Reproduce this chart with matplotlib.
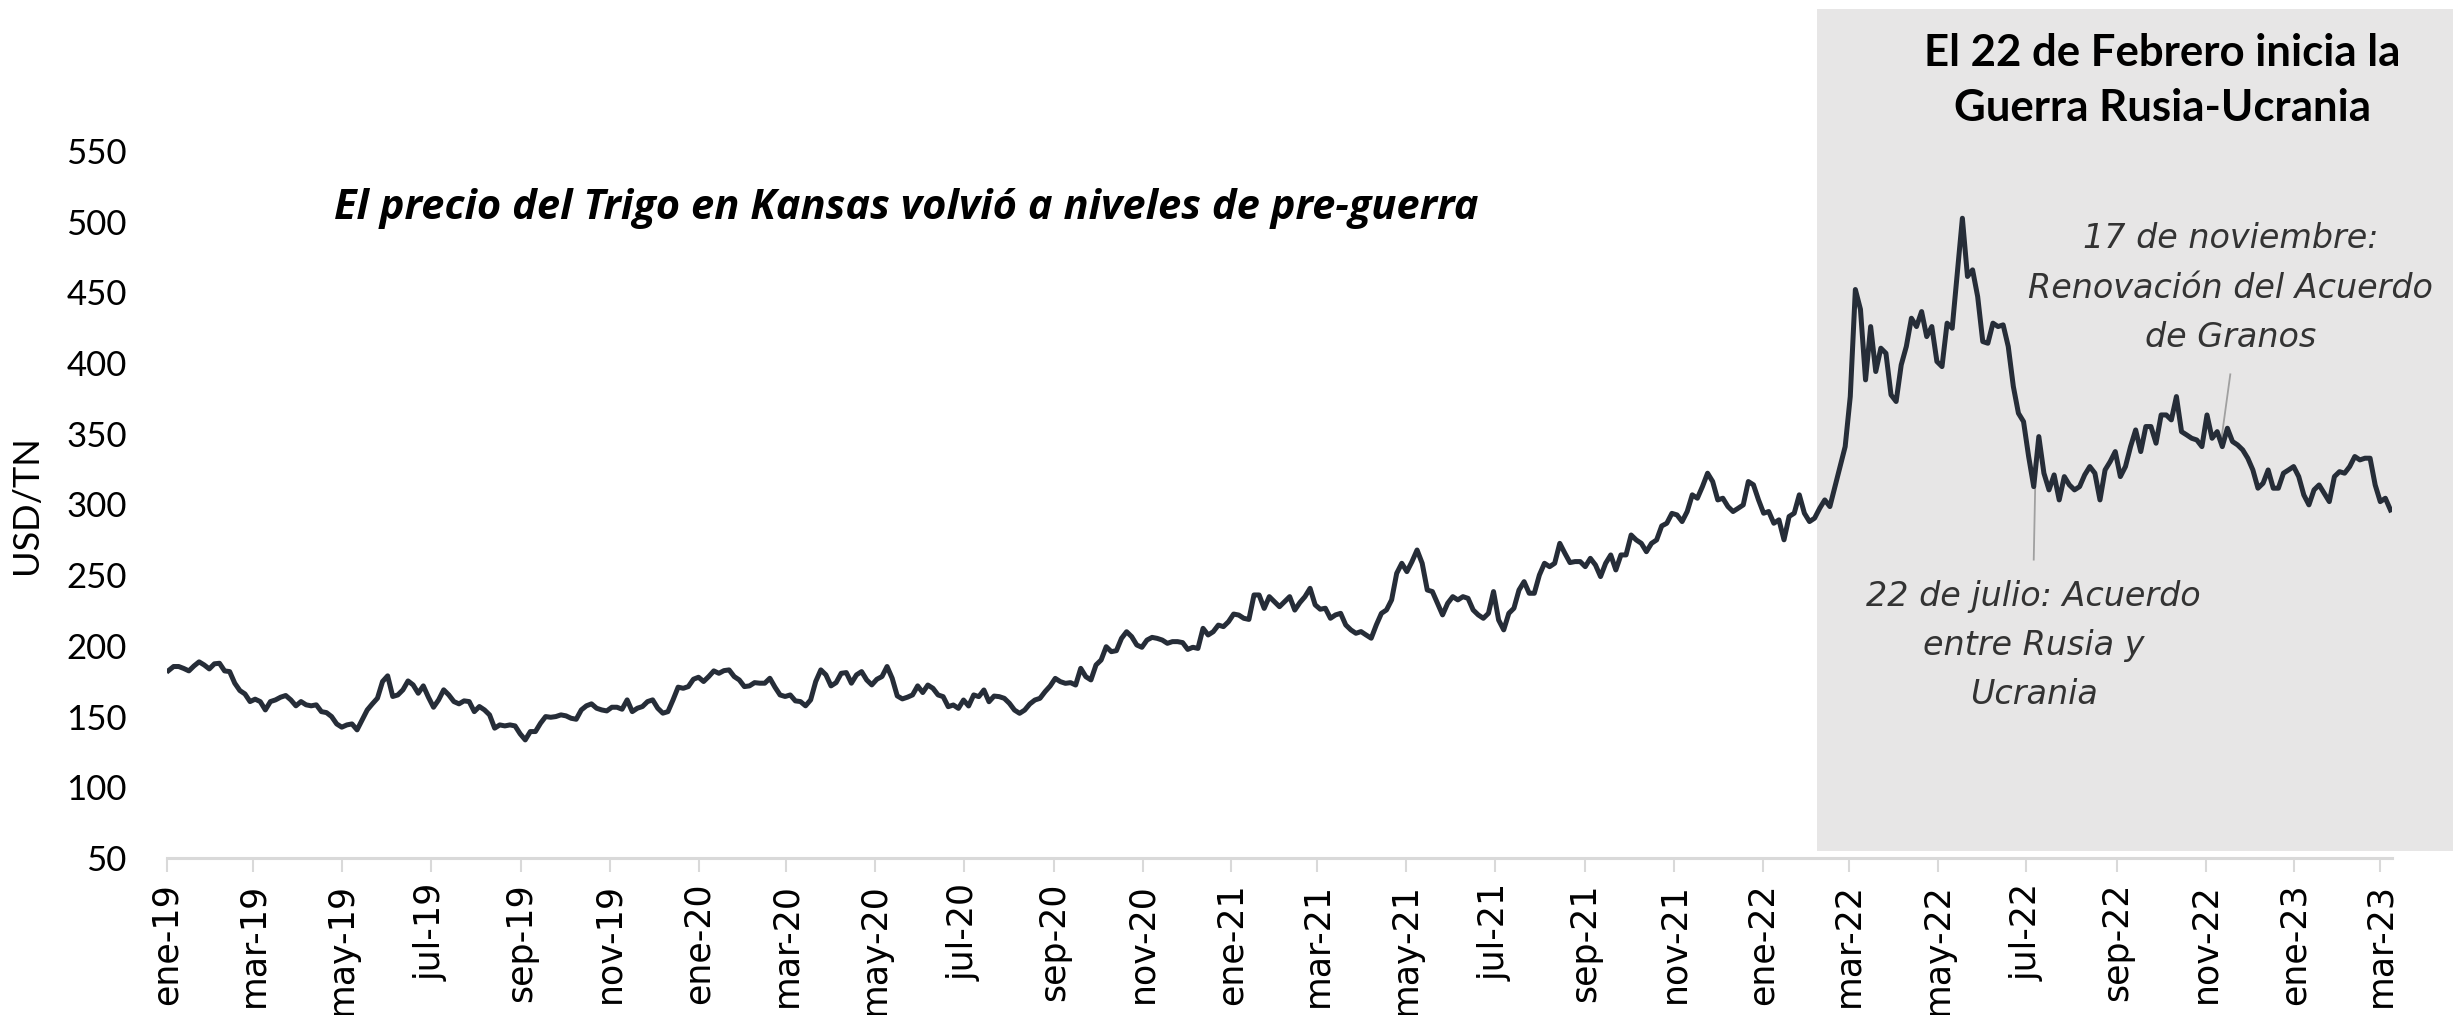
import numpy as np
import pandas as pd
import matplotlib
matplotlib.use("Agg")
import matplotlib.pyplot as plt
import matplotlib.dates as mdates
from matplotlib.patches import Rectangle
from matplotlib.ticker import FuncFormatter

# Precio trigo Kansas (USD/TN), lectura cada 3.5 dias desde 02-01-2019
precio = [
    182.5, 185.4, 185.4, 184.0, 182.3, 185.8, 188.7, 186.5, 183.7, 187.3,
    187.7, 182.3, 181.8, 173.6, 168.4, 166.0, 160.6, 162.3, 160.6, 154.7,
    160.6, 161.8, 163.7, 164.9, 161.8, 157.6, 160.6, 158.3, 157.6, 158.3,
    153.5, 152.8, 150.0, 144.8, 142.5, 144.1, 144.8, 140.6, 147.7, 154.7,
    159.0, 163.0, 174.8, 178.8, 164.2, 165.3, 168.9, 175.2, 172.4, 166.5,
    171.7, 163.7, 156.6, 161.8, 168.9, 165.3, 160.6, 159.0, 161.1, 160.6,
    153.5, 157.1, 154.7, 151.2, 141.8, 144.1, 143.4, 144.1, 143.4, 137.8,
    133.5, 139.4, 139.4, 145.3, 150.0, 149.5, 150.0, 151.2, 150.5, 148.8,
    148.1, 154.7, 157.6, 159.0, 155.9, 154.7, 154.0, 156.6, 156.6, 155.2,
    161.8, 153.5, 155.9, 157.1, 160.6, 161.8, 155.9, 152.4, 153.5, 161.8,
    170.8, 170.0, 171.2, 176.4, 177.8, 174.8, 178.3, 182.3, 180.6, 182.5,
    183.0, 178.3, 175.9, 171.2, 171.7, 174.0, 173.6, 173.6, 177.1, 170.8,
    165.3, 164.2, 165.3, 161.1, 160.6, 157.6, 161.8, 174.8, 183.0, 179.5,
    171.7, 174.0, 180.6, 181.1, 173.6, 179.5, 181.8, 175.9, 172.4, 176.4,
    178.3, 185.4, 177.1, 164.6, 162.5, 163.7, 165.3, 171.7, 167.0, 172.3,
    170.0, 165.3, 164.1, 157.0, 158.2, 155.8, 161.7, 157.5, 165.3, 164.1,
    168.8, 160.5, 164.5, 164.1, 162.9, 159.4, 154.6, 152.3, 154.6, 158.9,
    161.7, 162.9, 167.6, 171.6, 177.0, 174.7, 173.5, 174.0, 172.3, 184.1,
    178.2, 175.9, 186.5, 190.0, 199.4, 195.9, 196.6, 205.3, 210.0, 206.5,
    200.6, 199.0, 204.1, 206.0, 205.3, 204.1, 201.8, 203.0, 203.0, 202.3,
    197.5, 199.0, 198.2, 212.4, 207.7, 210.0, 214.7, 213.6, 217.1, 222.5,
    221.8, 219.5, 218.7, 236.0, 236.0, 226.5, 234.8, 231.2, 227.7, 231.2,
    234.8, 225.3, 230.6, 234.8, 240.7, 229.0, 225.9, 226.6, 219.5, 221.9,
    223.0, 214.8, 211.3, 208.9, 210.1, 207.7, 205.4, 214.8, 223.0, 225.4,
    232.5, 251.3, 258.4, 252.5, 259.6, 267.8, 258.4, 239.5, 238.4, 230.1,
    221.9, 230.1, 234.8, 232.5, 234.8, 233.6, 225.4, 221.9, 219.5, 223.0,
    238.4, 218.3, 211.3, 223.0, 226.6, 239.5, 245.4, 237.2, 237.2, 250.1,
    258.4, 256.0, 258.4, 272.5, 265.5, 258.9, 259.6, 259.6, 256.0, 261.9,
    257.2, 249.0, 258.4, 264.3, 253.7, 264.3, 264.3, 278.4, 274.9, 272.5,
    266.6, 272.5, 274.9, 284.8, 286.7, 293.7, 292.6, 287.9, 295.0, 306.8,
    304.4, 312.7, 322.1, 316.2, 303.2, 304.4, 298.5, 295.0, 297.3, 299.7,
    316.2, 313.9, 303.2, 293.8, 295.0, 286.7, 289.1, 275.0, 291.5, 293.8,
    306.8, 293.8, 287.9, 290.3, 297.3, 303.2, 298.5, 312.7, 326.8, 340.9,
    376.3, 452.0, 438.0, 388.1, 425.8, 394.0, 410.5, 406.9, 377.5, 372.8,
    398.7, 411.7, 431.7, 425.8, 436.4, 418.7, 425.8, 401.1, 397.5, 428.2,
    424.6, 463.5, 502.4, 461.2, 465.9, 447.0, 415.2, 414.0, 428.2, 425.8,
    427.0, 411.7, 383.4, 364.5, 358.6, 333.9, 312.6, 348.0, 322.1, 310.3,
    320.9, 303.2, 319.7, 313.8, 310.3, 312.6, 320.9, 326.8, 322.1, 303.2,
    324.4, 330.3, 337.4, 319.7, 326.8, 340.9, 352.7, 337.4, 355.1, 355.1,
    343.3, 363.3, 363.3, 359.8, 376.3, 351.5, 349.2, 346.8, 345.6, 340.9,
    363.3, 346.8, 351.5, 340.9, 353.9, 344.5, 342.1, 338.6, 332.7, 324.4,
    311.5, 315.0, 324.4, 311.5, 311.5, 322.1, 324.4, 326.8, 319.7, 306.7,
    299.7, 310.3, 313.8, 307.9, 302.0, 319.7, 323.2, 322.1, 326.8, 333.9,
    331.5, 332.7, 332.7, 313.8, 302.0, 304.4, 296.1,
]
fechas = pd.date_range("2019-01-02", periods=len(precio), freq="84h")

meses = ["ene", "feb", "mar", "abr", "may", "jun", "jul", "ago", "sep", "oct", "nov", "dic"]
y_ticks = [50, 100, 150, 200, 250, 300, 350, 400, 450, 500, 550]

titulo = "El precio del Trigo en Kansas volvió a niveles de pre-guerra"
titulo_guerra = "El 22 de Febrero inicia la\nGuerra Rusia-Ucrania"
nota_julio = "22 de julio: Acuerdo\nentre Rusia y\nUcrania"
nota_nov = "17 de noviembre:\nRenovación del Acuerdo\nde Granos"

# lineas guia de las notas (fecha, valor)
guia_julio = (["2022-07-07", "2022-07-06"], [312, 261])
guia_nov = (["2022-11-12", "2022-11-18"], [347, 392])

color_linea = "#262d38"
color_gris = "#e7e6e6"

fig = plt.figure(figsize=(24.53, 10.15), dpi=100)
ax = fig.add_axes([0.0681, 0.1547, 0.9070, 0.6966])
ax.patch.set_visible(False)

# recuadro gris del periodo de guerra
fig.add_artist(Rectangle((0.7407, 0.1616), 0.2593, 0.8296, transform=fig.transFigure,
                         facecolor=color_gris, edgecolor="none", zorder=-1))

ax.plot(fechas, precio, color=color_linea, lw=3.6, solid_joinstyle="round", zorder=3)

ax.plot(pd.to_datetime(guia_julio[0]), guia_julio[1], color="#a0a0a0", lw=1.3, zorder=2)
ax.plot(pd.to_datetime(guia_nov[0]), guia_nov[1], color="#a0a0a0", lw=1.3, zorder=2)

ax.text(pd.Timestamp("2022-07-06"), 200, nota_julio, ha="center", va="center",
        fontsize=24, style="italic", family="DejaVu Sans", color="#333333", linespacing=1.62)
ax.text(pd.Timestamp("2022-11-18"), 453, nota_nov, ha="center", va="center",
        fontsize=24, style="italic", family="DejaVu Sans", color="#333333", linespacing=1.62)

fig.text(0.3693, 0.795, titulo, ha="center", va="center", fontsize=30,
         family="Open Sans", weight="bold", style="italic")
fig.text(0.8814, 0.9207, titulo_guerra, ha="center", va="center", fontsize=31.5,
         family="Lato", weight="bold", linespacing=1.45)

ax.set_xlim(pd.Timestamp("2019-01-01"), pd.Timestamp("2023-03-09"))
ax.set_ylim(50, 550)
ax.set_yticks(y_ticks)

ax.xaxis.set_major_locator(mdates.MonthLocator(bymonth=[1, 3, 5, 7, 9, 11]))
ax.xaxis.set_major_formatter(FuncFormatter(
    lambda v, pos: f"{meses[mdates.num2date(v).month - 1]}-{mdates.num2date(v).year % 100:02d}"))

for s in ["top", "right", "left"]:
    ax.spines[s].set_visible(False)
ax.spines["bottom"].set_color("#d9d9d9")
ax.spines["bottom"].set_linewidth(2.2)

ax.tick_params(axis="x", length=10, width=1.5, color="#d9d9d9", pad=8,
               labelsize=25, labelrotation=90)
ax.tick_params(axis="y", length=0, pad=29, labelsize=25)
for lab in ax.get_yticklabels():
    lab.set_family("Lato")

ax.set_ylabel("USD/TN", fontsize=26, family="Lato")
ax.yaxis.set_label_coords(-0.0558, 0.5)

fig.savefig("out.png", dpi=100)
